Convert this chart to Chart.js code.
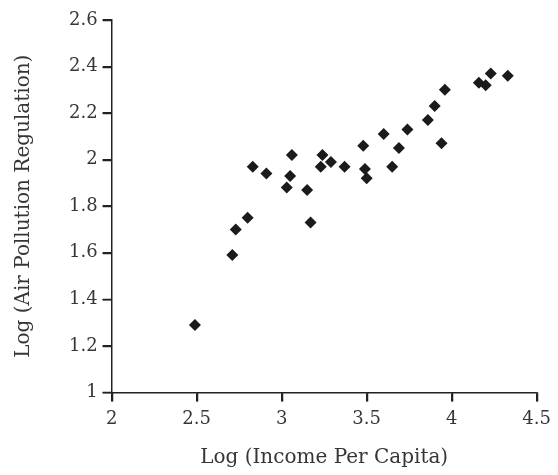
<!DOCTYPE html>
<html>
<head>
<meta charset="utf-8">
<script src="https://cdn.jsdelivr.net/npm/chart.js@4/dist/chart.umd.min.js"></script>
<style>
  html, body { margin: 0; padding: 0; background: #fff; }
  #wrap { width: 558px; height: 475px; }
</style>
</head>
<body>
<div id="wrap"><canvas id="chart"></canvas></div>
<script>
// log income per capita (x) and log air pollution regulation (y)
const incomeLog = [
  2.49, 2.71, 2.73, 2.80, 2.83, 2.91, 3.03, 3.05, 3.06, 3.15,
  3.17, 3.23, 3.24, 3.29, 3.37, 3.48, 3.49, 3.50, 3.60, 3.65,
  3.69, 3.74, 3.86, 3.90, 3.94, 3.96, 4.16, 4.20, 4.23, 4.33,
];
const regulationLog = [
  1.29, 1.59, 1.70, 1.75, 1.97, 1.94, 1.88, 1.93, 2.02, 1.87,
  1.73, 1.97, 2.02, 1.99, 1.97, 2.06, 1.96, 1.92, 2.11, 1.97,
  2.05, 2.13, 2.17, 2.23, 2.07, 2.30, 2.33, 2.32, 2.37, 2.36,
];
const xTicks = [2, 2.5, 3, 3.5, 4, 4.5];
const yTicks = [1, 1.2, 1.4, 1.6, 1.8, 2, 2.2, 2.4, 2.6];

const ink = "#222";
const textInk = "#363636";
const serif = "'DejaVu Serif', serif";
const TICK_LEN = 9;

const axis = (ticks, title, tickPad, titlePadding) => ({
  type: "linear",
  min: ticks[0],
  max: ticks[ticks.length - 1],
  afterBuildTicks: (scale) => {
    scale.ticks = ticks.map((value) => ({ value }));
  },
  // no gridlines, only short ticks outside the axis
  grid: {
    drawOnChartArea: false,
    drawTicks: true,
    tickLength: TICK_LEN,
    color: ink,
    tickColor: ink,
    tickWidth: 1.5,
    lineWidth: 1.5,
  },
  border: { display: true, color: ink, width: 1.5 },
  ticks: {
    color: textInk,
    font: { family: serif, size: 18 },
    padding: tickPad,
    callback: (v) => String(Number(v.toFixed(1))),
  },
  title: {
    display: true,
    text: title,
    color: textInk,
    font: { family: serif, size: 20 },
    padding: titlePadding,
  },
});

// stroke the outside tick marks again so they read as firmly as the axis lines
const outerTicks = {
  id: "outerTicks",
  afterDraw(chart) {
    const { ctx, chartArea, scales } = chart;
    ctx.save();
    ctx.strokeStyle = ink;
    ctx.lineWidth = 1.5;
    ctx.beginPath();
    xTicks.forEach((v) => {
      const px = Math.round(scales.x.getPixelForValue(v)) + 0.5;
      ctx.moveTo(px, chartArea.bottom);
      ctx.lineTo(px, chartArea.bottom + TICK_LEN);
    });
    yTicks.forEach((v) => {
      const py = Math.round(scales.y.getPixelForValue(v)) + 0.5;
      ctx.moveTo(chartArea.left, py);
      ctx.lineTo(chartArea.left - TICK_LEN, py);
    });
    ctx.stroke();
    ctx.restore();
  },
};

new Chart(document.getElementById("chart"), {
  type: "scatter",
  data: {
    datasets: [
      {
        data: incomeLog.map((x, i) => ({ x, y: regulationLog[i] })),
        pointStyle: "rectRot",
        pointRadius: 6,
        pointBackgroundColor: "#1b1b1b",
        pointBorderColor: "#1b1b1b",
        pointBorderWidth: 0,
      },
    ],
  },
  options: {
    responsive: true,
    maintainAspectRatio: false,
    animation: false,
    events: [],
    layout: { padding: { top: 20, right: 3, left: 12, bottom: 5 } },
    plugins: { legend: { display: false }, tooltip: { enabled: false } },
    scales: {
      x: axis(xTicks, "Log (Income Per Capita)", 7, { top: 9, bottom: 0 }),
      y: axis(yTicks, "Log (Air Pollution Regulation)", 5, { top: 0, bottom: 28 }),
    },
  },
  plugins: [outerTicks],
});
</script>
</body>
</html>
